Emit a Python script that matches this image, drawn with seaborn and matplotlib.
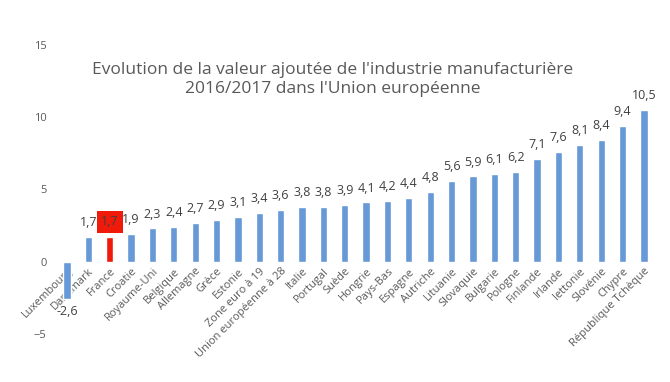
import matplotlib
matplotlib.use("Agg")
import matplotlib.pyplot as plt
import seaborn as sns

# -------------------------------------------------------------------
# Data
# -------------------------------------------------------------------
pays = ["Luxembourg", "Danemark", "France", "Croatie", "Royaume-Uni", "Belgique",
        "Allemagne", "Grèce", "Estonie", "Zone euro à 19", "Union européenne à 28",
        "Italie", "Portugal", "Suède", "Hongrie", "Pays-Bas", "Espagne", "Autriche",
        "Lituanie", "Slovaquie", "Bulgarie", "Pologne", "Finlande", "Irlande",
        "lettonie", "Slovénie", "Chypre", "République Tchèque"]
evolution = [-2.6, 1.7, 1.7, 1.9, 2.3, 2.4, 2.7, 2.9, 3.1, 3.4, 3.6, 3.8, 3.8, 3.9,
             4.1, 4.2, 4.4, 4.8, 5.6, 5.9, 6.1, 6.2, 7.1, 7.6, 8.1, 8.4, 9.4, 10.5]
surligne = "France"

bleu = "#6699D6"
rouge = "#F01A0A"
gris = "#595959"

# -------------------------------------------------------------------
# Plot
# -------------------------------------------------------------------
sns.set_style("white")
plt.rcParams["font.family"] = ["Open Sans", "DejaVu Sans"]

fig = plt.figure(figsize=(6.7, 3.82), dpi=100)
ax = fig.add_axes([0.084, 0.126, 0.893, 0.756])

couleurs = {p: (rouge if p == surligne else bleu) for p in pays}
sns.barplot(x=pays, y=evolution, hue=pays, palette=couleurs, legend=False,
            width=0.34, ax=ax, saturation=1)

ax.set_ylim(-5, 15)
ax.set_xlim(-0.5, len(pays) - 0.5)
ax.set_yticks([-5, 0, 5, 10, 15])
# category labels sit on the zero line, like in Excel
ax.spines["bottom"].set_position(("data", 0))
ax.tick_params(axis="y", length=0, labelsize=8, labelcolor=gris, pad=7)
ax.tick_params(axis="x", length=0, labelsize=8, labelcolor=gris, pad=3)
plt.setp(ax.get_xticklabels(), rotation=45, ha="right", rotation_mode="anchor")
sns.despine(ax=ax, left=True, bottom=True)

# data labels
for i, (p, v) in enumerate(zip(pays, evolution)):
    txt = f"{v:.1f}".replace(".", ",")
    if v < 0:
        ax.text(i, v - 0.4, txt, ha="center", va="top", fontsize=9, color="#404040")
    elif p == surligne:
        ax.text(i, v + 0.6, txt, ha="center", va="bottom", fontsize=9, color="#404040",
                bbox=dict(boxstyle="square,pad=0.35", fc=rouge, ec="none"))
    else:
        ax.text(i, v + 0.55, txt, ha="center", va="bottom", fontsize=9, color="#404040")

fig.text(0.497, 0.745, "Evolution de la valeur ajoutée de l'industrie manufacturière\n"
         "2016/2017 dans l'Union européenne", ha="center", va="bottom",
         fontsize=12.5, color=gris, linespacing=1.25)

fig.savefig("out.png", dpi=100)
